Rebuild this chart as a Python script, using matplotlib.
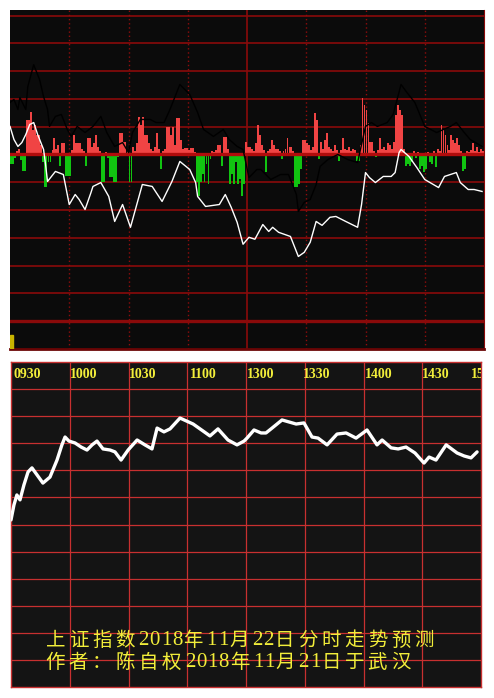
import matplotlib
matplotlib.use("Agg")
import matplotlib.pyplot as plt
from matplotlib.patches import Rectangle

# ---- data ----
# top panel: one bar per minute, + is red (buy), - is green (sell)
bar_vals = [
    -10, -10, -4, 3, 5, -6, -17, -17, 35, 35, 43, 25, 30, 20, 20, 10, -8, -33, -33, -8,
    -8, 4, 17, 5, 10, -12, 12, 12, -22, -22, -22, 4, 20, 12, 12, 12, 6, 3, -12, 17,
    17, 8, 12, 20, 8, 3, -28, -28, 2, -4, -23, -23, -28, -28, -3, 22, 22, 13, 13, 4,
    -28, -28, 8, 3, 12, 38, 30, 38, 20, 20, 12, 6, 3, 8, 22, 5, -15, 3, 6, 28,
    28, 20, 28, 10, 37, 37, 15, 5, 7, 7, 4, 7, 7, 2, -28, -42, -28, -20, -28, -10,
    -30, -5, 3, 2, 4, 10, 10, -12, 18, 18, 6, -30, -20, -30, -8, -30, -25, -42, -30, 13,
    8, 8, 5, 3, 12, 30, 20, 10, 4, -18, 3, 6, 15, 10, 6, 5, 3, -5, 3, 6,
    17, 8, 8, 3, -33, -33, -30, -15, 15, 15, 12, 10, 4, 8, 42, 35, -5, 13, 6, 15,
    22, 8, 5, 3, 10, 4, -7, 4, 17, 5, 4, 8, 3, 5, 4, -7, -7, 10, 57, 50,
    45, 32, 13, 13, 3, -3, 4, 17, 5, 8, 4, 12, 10, 5, 13, 40, 50, 45, 40, 5,
    -12, -10, -12, -8, 3, -4, 2, -15, -12, -18, -15, 2, -8, -10, 3, -13, 5, 3, 30, 25,
    20, 10, 4, 20, 15, 12, 17, 10, 3, -17, -15, 3, 2, 4, 12, 3, 8, 2, 5, 3,
]

white_min = [0, 2, 4, 6, 8, 10, 12, 14, 17, 18, 19, 23, 27, 30, 33, 35, 38, 41, 42, 46,
             50, 53, 57, 61, 67, 72, 77, 82, 86, 91, 94, 95, 99, 103, 106, 109, 112, 115,
             118, 121, 124, 128, 131, 133, 136, 142, 146, 149, 152, 155, 158, 162, 165,
             170, 176, 178, 180, 182, 185, 189, 193, 195, 197, 198, 202, 206, 210, 217,
             220, 226, 228, 232, 235, 239]
white_val = [10.1, 5.4, 2.9, 4.3, 7.2, 10.8, 11.5, 7.2, 1.8, -3.6, -9.7, -6.1, -7.2, -18,
             -14.4, -16.2, -19.8, -13.7, -11.5, -10.1, -15.1, -24.1, -18, -26.2, -10.8,
             -11.5, -16.9, -9.7, -2.5, -5.4, -10.1, -15.1, -18.7, -18.3, -18, -14.4, -19,
             -24.4, -32.3, -29.8, -30.5, -25.2, -27.7, -26.2, -28, -29.5, -36.7, -35.2,
             -31.6, -24.1, -25.5, -22.6, -22.3, -24.1, -26.2, -18, -6.5, -8.3, -10.1,
             -7.9, -7.9, -6.5, 0.7, 1.8, -0.7, -4.7, -9, -11.9, -7.9, -6.5, -10.1, -12.6,
             -12.6, -13.3]

black_min = [0, 2, 4, 5, 8, 9, 12, 15, 17, 19, 20, 23, 26, 29, 31, 34, 38, 42, 46, 49,
             53, 57, 60, 62, 66, 71, 74, 78, 81, 86, 91, 95, 98, 103, 108, 111, 115, 118,
             121, 125, 127, 132, 137, 141, 145, 146, 149, 152, 155, 157, 161, 166, 171,
             176, 180, 183, 186, 191, 194, 198, 201, 205, 210, 216, 223, 226, 230, 233, 239]
black_val = [18.7, 19.8, 16.2, 20.5, 16.2, 24.4, 32.3, 26.9, 20.8, 16.2, 10.1, 13.7, 14.4,
             9.0, 6.5, 10.1, 7.9, 10.1, 13.7, 7.9, 2.9, 4.3, 0.7, 7.9, 12.6, 12.6, 11.5,
             11.5, 16.2, 25.2, 21.6, 15.1, 9.0, 6.5, 9.0, 5.4, 2.9, 1.8, -8.3, -5.4, -5.4,
             -9.0, -7.2, -7.2, -14.4, -20.5, -17.2, -16.2, -10.8, -4.3, -1.8, 0, -1.8,
             -2.9, 10.1, 11.5, 10.1, 11.5, 14.4, 25.2, 22.3, 18.7, 10.1, 7.9, 10.1, 11.5,
             7.9, 5.4, 2.9]

# bottom panel: forecast line
fc_min = [0, 1.5, 3, 4.6, 6.6, 8.7, 10.7, 13.3, 16.3, 19.9, 23.5, 26, 27.6, 29.6, 32.7,
          35.8, 38.8, 41.4, 43.9, 47, 50.6, 53.1, 56.2, 59.8, 64.4, 68.4, 72, 74.6, 78.1,
          81.2, 86.3, 93, 98.1, 101.6, 105.7, 110.8, 115.4, 119, 120.5, 124.1, 127.7,
          130.2, 133.3, 138.4, 145.6, 149.6, 153.7, 156.8, 161.4, 166.5, 171.1, 176.2,
          181.8, 186.9, 189.5, 194.1, 197.7, 201.7, 206.3, 210.9, 213.5, 217, 222.2,
          227.8, 231.4, 234.9, 238]
fc_val = [61.7, 67.2, 70.9, 69.1, 74.6, 79.4, 80.9, 78.3, 75.3, 77.5, 83.8, 89.4, 92.3,
          90.8, 90.1, 88.6, 87.5, 89.4, 90.8, 87.9, 87.5, 86.8, 83.8, 87.5, 91.2, 89.4,
          87.9, 95.6, 94.2, 95.3, 99.3, 97.1, 94.5, 92.7, 95.3, 91.2, 89.4, 90.8, 91.9,
          94.9, 93.8, 93.8, 95.6, 98.6, 97.1, 97.5, 92.3, 91.9, 89.4, 93.4, 93.8, 91.9,
          94.9, 89.4, 91.2, 88.3, 87.9, 88.6, 86.4, 82.7, 84.9, 83.8, 89.4, 86.4, 85.3,
          84.6, 86.8]

time_labels = ["0930", "1000", "1030", "1100", "1300", "1330", "1400", "1430", "1500"]
time_label_min = [1.5, 30, 60, 91.5, 120.5, 149, 180.5, 210, 235]

title_lines = ["上证指数2018年11月22日分时走势预测",
               "作者：陈自权2018年11月21日于武汉"]

YELLOW = "#f2ee3a"

# ---- figure ----
W, H = 494, 698
fig = plt.figure(figsize=(W / 100, H / 100), dpi=100, facecolor="white")

# top panel
ax1 = fig.add_axes([10 / W, (H - 349) / H, 474 / W, 339 / H])
ax1.set_facecolor("#0b0b0b")
ax1.set_xlim(0, 240)
ax1.set_ylim(-70, 52)
for y in range(-60, 60, 10):
    lw = 2.4 if y in (0, -60) else 1.2
    col = "#b00c0c" if y == 0 else "#8a0a0a"
    ax1.axhline(y, color=col, lw=lw, zorder=3 if y == 0 else 1)
for k in range(1, 8):
    if k == 4:
        ax1.axvline(k * 30, color="#8a0a0a", lw=1.2, zorder=1)
    else:
        ax1.axvline(k * 30, color="#900c0c", lw=1.0, ls=(0, (1, 2)), zorder=1)

xs = [m + 0.5 for m in range(len(bar_vals))]
hs = [v / 2.783 for v in bar_vals]
cols = ["#f04444" if v > 0 else "#11c411" for v in bar_vals]
ax1.bar(xs, hs, width=0.95, color=cols, linewidth=0, zorder=2)
ax1.plot(black_min, black_val, color="black", lw=1.0, zorder=4)
ax1.plot(white_min, white_val, color="white", lw=1.0, zorder=5)
ax1.add_patch(Rectangle((0, 0), 0.006, 0.04, transform=ax1.transAxes,
                        color="#c8b400", zorder=6))
for s in ax1.spines.values():
    s.set_visible(False)
ax1.spines["right"].set_visible(True)
ax1.spines["right"].set_color("#8a0a0a")
ax1.spines["bottom"].set_visible(True)
ax1.spines["bottom"].set_color("#6a0505")
ax1.spines["bottom"].set_linewidth(2)
ax1.set_xticks([])
ax1.set_yticks([])

# bottom panel
ax2 = fig.add_axes([11 / W, (H - 687) / H, 470 / W, 325 / H])
ax2.set_facecolor("#141414")
ax2.set_xlim(0, 240)
ax2.set_ylim(0, 120)
for y in range(10, 120, 10):
    ax2.axhline(y, color="#c83030", lw=0.9, zorder=1)
for k in range(1, 8):
    ax2.axvline(k * 30, color="#c83030", lw=0.9, zorder=1)
for s in ax2.spines.values():
    s.set_color("#c83030")
    s.set_linewidth(1.0)
ax2.set_xticks([])
ax2.set_yticks([])
ax2.plot(fc_min, fc_val, color="white", lw=2.4, zorder=3,
         solid_joinstyle="round", solid_capstyle="round")

# the last label is cut by the panel edge in the original too
for lab, m in zip(time_labels, time_label_min):
    ax2.text(m, 115.3, lab, color=YELLOW, fontsize=10, fontweight="bold",
             family="Liberation Serif", ha="left", va="center", clip_on=True, zorder=4)

# caption: fixed-pitch layout like the original bitmap font
px_per_min = 470 / 240
full_w = 23.2 / px_per_min
half_w = 11.25 / px_per_min
for line, yv in zip(title_lines, [17.2, 9.2]):
    x = (45 - 11) / px_per_min
    for ch in line:
        if ch.isascii():
            ax2.text(x + half_w / 2, yv, ch, color=YELLOW, fontsize=15,
                     family="Liberation Serif", ha="center", va="center", zorder=4)
            x += half_w
        else:
            ax2.text(x + full_w / 2 - 0.6, yv, ch, color=YELLOW, fontsize=14,
                     family=["Noto Sans CJK SC", "DejaVu Sans"], ha="center",
                     va="center", zorder=4)
            x += full_w

fig.savefig("out.png", dpi=100, facecolor="white")
